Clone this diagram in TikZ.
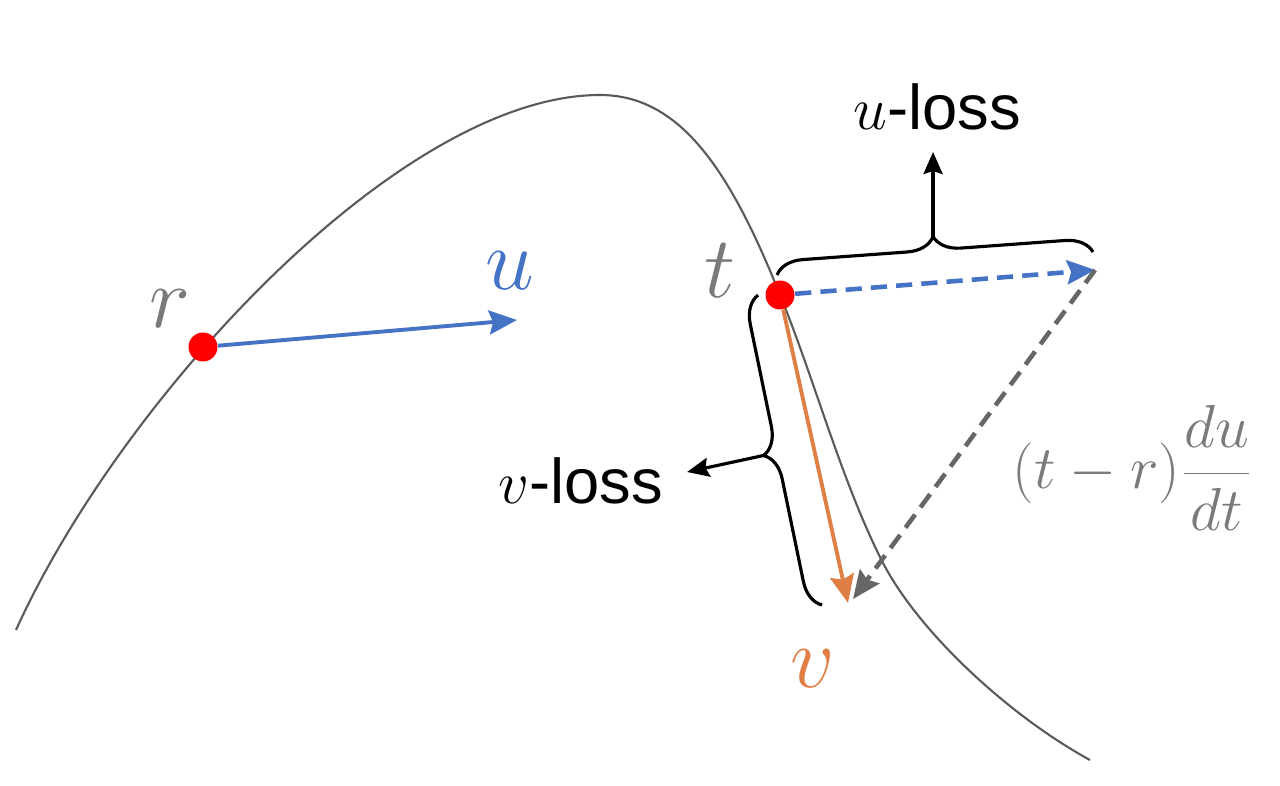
\documentclass[tikz,border=0pt]{standalone}
\usepackage{fontspec}
\newfontfamily\lossfont{Liberation Sans}
\usetikzlibrary{arrows.meta,decorations.pathreplacing,calc}
\definecolor{ublue}{HTML}{4472C4}
\definecolor{vorange}{HTML}{E07F45}
\definecolor{curvegray}{HTML}{5A5A5A}
\definecolor{labelgray}{HTML}{7A7A7A}
\definecolor{dashgray}{HTML}{666666}
\begin{document}
\begin{tikzpicture}[
  dot/.style={circle,fill=red,inner sep=0pt,minimum size=0.29cm},
  vec/.style={line width=1.1pt,-{Stealth[length=0.28cm,width=0.24cm,inset=0.04cm]}},
  bracestyle/.style={draw=black,line width=0.9pt,decorate,decoration={brace,amplitude=0.27cm}},
  pointer/.style={line width=0.9pt,-{Stealth[length=0.22cm,width=0.19cm,inset=0.03cm]}},
  dashvec/.style={vec,line width=1.3pt,dash pattern=on 4.6pt off 2.6pt},
  mathlbl/.style={anchor=base,inner sep=0pt},
  losslbl/.style={anchor=base,inner sep=0pt,font=\lossfont\fontsize{18}{20}\selectfont}
]
\useasboundingbox (0,0) rectangle (12.8,7.85);
% curve
\draw[curvegray,line width=0.6pt] (0.16,1.55)
  .. controls (1.20,3.85) and (4.00,6.90) .. (6.00,6.90)
  .. controls (6.80,6.90) and (7.30,6.15) .. (7.80,4.90)
  .. controls (8.14,4.07) and (8.42,3.02) .. (8.83,2.22)
  .. controls (9.20,1.51) and (10.11,0.68) .. (10.90,0.25);
% points
\node[dot] (R) at (2.03,4.38) {};
\node[dot] (T) at (7.80,4.90) {};
\coordinate (Uend) at (5.17,4.65);
\coordinate (D) at (10.95,5.15);
\coordinate (Vend) at (8.48,1.82);
\coordinate (G) at (8.53,1.86);
% vectors
\draw[vec,ublue] (R) -- (Uend);
\draw[dashvec,ublue] (T) -- (D);
\draw[dashvec,dashgray] (D) -- (G);
\draw[vec,vorange] (T) -- (Vend);
% u-loss brace
\coordinate (ub1) at (7.77,5.10);
\coordinate (ub2) at (10.93,5.33);
\draw[bracestyle] (ub1) -- (ub2);
\coordinate (um) at ($(ub1)!0.5!(ub2)$);
\coordinate (utip) at ($(um)!0.27cm!90:(ub2)$);
\node[losslbl] (uloss) at (9.37,6.55) {$u$-loss};
\draw[pointer] (utip) -- (utip |- 0,6.33);
% v-loss brace
\coordinate (vb1) at (8.22,1.80);
\coordinate (vb2) at (7.58,4.90);
\draw[bracestyle] (vb1) -- (vb2);
\coordinate (vm) at ($(vb1)!0.5!(vb2)$);
\coordinate (vtip) at ($(vm)!0.27cm!90:(vb2)$);
\coordinate (vlossend) at (6.87,3.13);
\node[losslbl] (vloss) at (5.81,2.82) {$v$-loss};
\draw[pointer] (vtip) -- (vlossend);
% labels
\node[mathlbl,labelgray,font=\fontsize{24}{26}\selectfont] (rl) at (1.70,4.58) {$r$};
\node[mathlbl,labelgray,font=\fontsize{24}{26}\selectfont] (tl) at (7.20,4.87) {$t$};
\node[mathlbl,ublue,font=\fontsize{28}{30}\selectfont] (ul) at (5.10,4.95) {$u$};
\node[mathlbl,vorange,font=\fontsize{28}{30}\selectfont] (vl) at (8.13,0.98) {$v$};
\node[labelgray,inner sep=0pt,font=\fontsize{18}{20}\selectfont] (form) at (11.33,3.17) {$\displaystyle (t-r)\frac{du}{dt}$};
\end{tikzpicture}
\end{document}
